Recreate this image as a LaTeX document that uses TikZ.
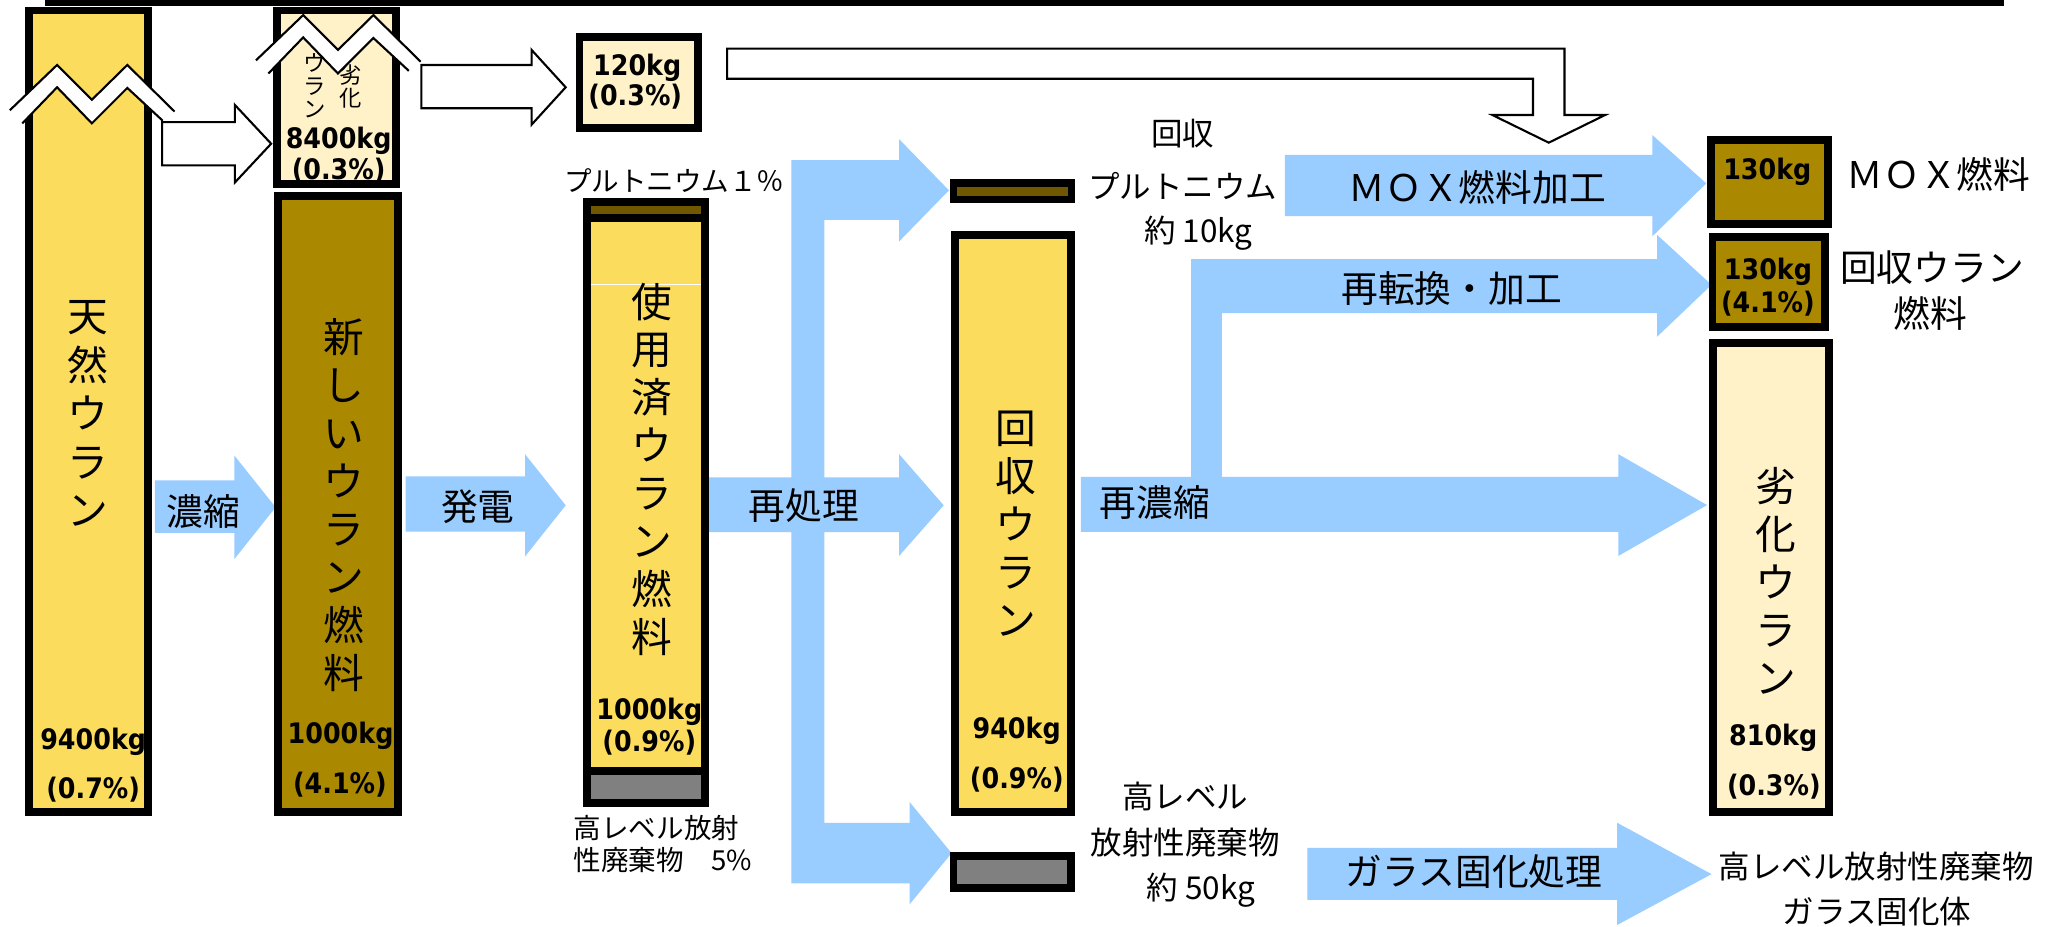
\documentclass[tikz,border=0pt]{standalone}
\usepackage{fontspec}
\setmainfont{Noto Sans CJK JP}
\newfontfamily\numf{DejaVu Sans}[FakeStretch=0.9]
\definecolor{yel}{HTML}{FCDC5C}
\definecolor{crm}{HTML}{FFF2C8}
\definecolor{gold}{HTML}{AA8800}
\definecolor{brn}{HTML}{705800}
\definecolor{gry}{HTML}{808080}
\definecolor{bl}{HTML}{99CCFF}
\tikzset{
  box/.style={draw=black, line width=6pt},
  wharrow/.style={draw=black, fill=white, line width=1.6pt, line join=miter},
  bluearrow/.style={fill=bl, draw=none},
  zzline/.style={draw=black, line width=1.6pt, line join=miter},
  jp/.style={inner sep=0pt, font=\fontsize{#1}{#1}\selectfont},
  vt/.style n args={2}{inner sep=0pt, align=center, font=\fontsize{#1}{#2}\selectfont},
  num/.style={inner sep=0pt, font=\numf\bfseries\fontsize{21.5}{24}\selectfont}
}
\newcommand\bx[5]{\draw[box,fill=#5] ({#1+3},{#2+3}) rectangle ({#3-3},{#4-3});}
\newcommand\myzig[2]{%
  \begin{scope}[shift={(#1,#2)}]
    \fill[white] (7.5,84) -- (43.5,49.5) -- (70,76) -- (97,49.5) -- (133,85) -- (124,92) -- (97,67) -- (70,94) -- (43.5,66.5) -- (17,94) -- cycle;
    \draw[zzline] (7.5,84) -- (43.5,49.5) -- (70,76) -- (97,49.5) -- (133,85);
    \draw[zzline] (17,94) -- (43.5,66.5) -- (70,94) -- (97,67) -- (124,92);
  \end{scope}}
\begin{document}
\begin{tikzpicture}[x=1pt, y=-1pt]
\useasboundingbox (0,0) rectangle (1568,706);
\fill[white] (0,0) rectangle (1568,706);
% top bar
\fill[black] (34,0) rectangle (1527,4.6);

% ---- blue arrows ----
\fill[bluearrow] (118,366) -- (178.5,366) -- (178.5,347) -- (210,386.5) -- (178.5,426) -- (178.5,406) -- (118,406) -- cycle;
\fill[bluearrow] (309,363) -- (400,363) -- (400,346) -- (431,385) -- (400,424) -- (400,405) -- (309,405) -- cycle;
\fill[bluearrow] (603,122) -- (685,122) -- (685,106) -- (723,145) -- (685,184) -- (685,167.6) -- (628,167.6)
  -- (628,363.7) -- (685,363.7) -- (685,346) -- (719,385) -- (685,423.6) -- (685,405.5) -- (628,405.5)
  -- (628,627) -- (693,627) -- (693,611) -- (725,650) -- (693,689) -- (693,673) -- (603,673)
  -- (603,405.5) -- (540,405.5) -- (540,363.7) -- (603,363.7) -- cycle;
\fill[bluearrow] (979,118) -- (1259,118) -- (1259,103) -- (1300,139.7) -- (1259,180) -- (1259,164.6) -- (979,164.6) -- cycle;
\fill[bluearrow] (823.6,363.4) -- (907.5,363.4) -- (907.5,197.5) -- (1262.6,197.5) -- (1262.6,179) -- (1304,217)
  -- (1262.6,256.5) -- (1262.6,238.6) -- (931,238.6) -- (931,363.4) -- (1233,363.4) -- (1233,346)
  -- (1300.6,384.8) -- (1233,423.6) -- (1233,405.3) -- (823.6,405.3) -- cycle;
\fill[bluearrow] (996,646) -- (1232,646) -- (1232,626.8) -- (1304,666) -- (1232,704.8) -- (1232,685.7) -- (996,685.7) -- cycle;

% ---- white outlined arrows ----
\draw[wharrow] (123.5,93) -- (179,93) -- (179,80) -- (206.6,109.5) -- (179,139) -- (179,126) -- (123.5,126) -- cycle;
\draw[wharrow] (321,49.5) -- (405,49.5) -- (405,38) -- (431,66.5) -- (405,95) -- (405,82.5) -- (321,82.5) -- cycle;
\draw[wharrow] (554,37) -- (1192,37) -- (1192,87.6) -- (1223,87.6) -- (1180,108.7) -- (1137,87.6) -- (1168,87.6) -- (1168,60) -- (554,60) -- cycle;

% ---- boxes ----
\bx{19.4}{5}{115.8}{621.7}{yel}
\bx{208.2}{5}{304.4}{143.5}{crm}
\bx{209}{146}{306}{621.7}{gold}
\bx{438.5}{25}{535}{100.4}{crm}
% column C (spent fuel)
\fill[black] (444,150.6) rectangle (540,615);
\fill[brn] (450,157) rectangle (534,163);
\fill[yel] (450,169) rectangle (534,584);
\fill[gry] (450,590.5) rectangle (534,609);
\draw[white, line width=0.8pt] (450,216.4) -- (534,216.4);
% column D
\fill[black] (724,136.4) rectangle (819,155);
\fill[brn] (729.5,142.5) rectangle (813.5,149.5);
\bx{724.5}{176}{818.8}{621.7}{yel}
\fill[black] (723.5,649) rectangle (819,679.6);
\fill[gry] (729.5,655) rectangle (813,673.6);
% column E
\bx{1300.6}{104}{1395.6}{173.5}{gold}
\bx{1301.7}{177.6}{1393.6}{252}{gold}
\bx{1302}{258}{1396.6}{621.7}{crm}

% ---- zigzag breaks ----
\myzig{0}{0}
\myzig{187.5}{-38}

% ---- vertical texts ----
\node[vt={31}{37}] (tennen) at (67,315) {天\\然\\ウ\\ラ\\ン};
\node[vt={31}{36.5}] (shin) at (262,384.75) {新\\し\\い\\ウ\\ラ\\ン\\燃\\料};
\node[vt={31}{36.5}] (shiyo) at (497,357.5) {使\\用\\済\\ウ\\ラ\\ン\\燃\\料};
\node[vt={31}{36.5}] (kaishuU) at (774,399) {回\\収\\ウ\\ラ\\ン};
\node[vt={31}{36.6}] (rekkaE) at (1353,442.7) {劣\\化\\ウ\\ラ\\ン};
\node[vt={17}{17.5}] (uranB) at (240,65.5) {ウ\\ラ\\ン};
\node[vt={17}{18}] (rekkaB) at (267,66) {劣\\化};

% ---- arrow labels ----
\node[jp=28] (noshuku) at (155,390) {濃縮};
\node[jp=28] (hatsuden) at (364,386) {発電};
\node[jp=28] (saishori) at (612.6,385) {再処理};
\node[jp=28] (sainoshuku) at (880,383) {再濃縮};
\node[jp=28] (saitenkan) at (1106,219.6) {再転換・加工};
\node[jp=28] (moxkako) at (1125.5,143) {ＭＯＸ燃料加工};
\node[jp=28] (glass) at (1123,664) {ガラス固化処理};

% ---- side labels ----
\node[jp=28] (moxlbl) at (1477,133) {ＭＯＸ燃料};
\node[jp=28] (ruf1) at (1472,204) {回収ウラン};
\node[jp=28] (ruf2) at (1471,238.7) {燃料};
\node[jp=24] (hlw1) at (1429.5,660) {高レベル放射性廃棄物};
\node[jp=24] (hlw2) at (1430,694.6) {ガラス固化体};
\node[jp=24] (pu1) at (901,101.6) {回収};
\node[jp=24] (pu2) at (901,142) {プルトニウム};
\node[jp=24] (pu3) at (913,178) {約 10kg};
\node[jp=24] (w1) at (903,607) {高レベル};
\node[jp=24] (w2) at (903,642) {放射性廃棄物};
\node[jp=24] (w3) at (915,678) {約 50kg};
\node[jp=21] (pupc) at (513.75,137.7) {プルトニウム１％};
\node[jp=21, anchor=west] (hlwC1) at (437,631) {高レベル放射};
\node[jp=21, anchor=west] (hlwC2) at (437,655) {性廃棄物　5\%};

% ---- numbers ----
\node[num] (n1a) at (71,565) {9400kg};
\node[num] (n1b) at (71,602) {(0.7\%)};
\node[num] (n2a) at (258,107) {8400kg};
\node[num] (n2b) at (258,130) {(0.3\%)};
\node[num] (n3a) at (485.5,52) {120kg};
\node[num] (n3b) at (484,74) {(0.3\%)};
\node[num] (n4a) at (259.5,561) {1000kg};
\node[num] (n4b) at (259,598) {(4.1\%)};
\node[num] (n5a) at (494.7,542) {1000kg};
\node[num] (n5b) at (494.7,566) {(0.9\%)};
\node[num] (n6a) at (774.6,557) {940kg};
\node[num] (n6b) at (774.7,594) {(0.9\%)};
\node[num] (n7a) at (1351,562.5) {810kg};
\node[num] (n7b) at (1351.5,599.5) {(0.3\%)};
\node[num] (n8a) at (1346.5,131) {130kg};
\node[num] (n9a) at (1347,207) {130kg};
\node[num] (n9b) at (1347,231) {(4.1\%)};
\end{tikzpicture}
\end{document}
